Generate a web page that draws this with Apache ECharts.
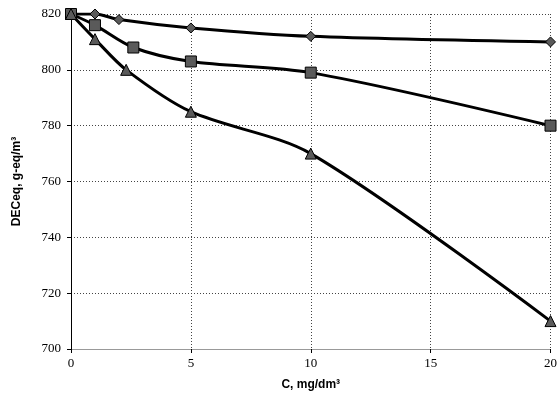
<!DOCTYPE html>
<html>
<head>
<meta charset="utf-8">
<script src="https://cdn.jsdelivr.net/npm/echarts@6/dist/echarts.min.js"></script>
<style>
  html, body { margin: 0; padding: 0; background: #fff; }
  #chart { width: 560px; height: 403px; }
</style>
</head>
<body>
<div id="chart"></div>
<script>
const diamondX = [0, 1, 2, 5, 10, 20];
const diamondY = [820, 820, 818, 815, 812, 810];
const squareX = [0, 1, 2.6, 5, 10, 20];
const squareY = [820, 816, 808, 803, 799, 780];
const triangleX = [0, 1, 2.3, 5, 10, 20];
const triangleY = [820, 811, 800, 785, 770, 710];

const pair = (xs, ys) => xs.map((x, i) => [x, ys[i]]);

const chart = echarts.init(document.getElementById('chart'));

const gridLine = { show: true, lineStyle: { color: '#444', type: [1, 2], width: 1 } };

function series(data, symbol, size) {
  return {
    type: 'line',
    data: data,
    smooth: 0.3,
    symbol: symbol,
    symbolSize: size,
    showAllSymbol: true,
    lineStyle: { color: '#000', width: 3 },
    itemStyle: { color: '#5a5a5a', borderColor: '#000', borderWidth: 1 },
    z: 3
  };
}

chart.setOption({
  animation: false,
  grid: { left: 71, right: 7, top: 14, bottom: 54 },
  xAxis: {
    type: 'value',
    min: 0,
    max: 20,
    interval: 5,
    name: 'C, mg/dm³',
    nameLocation: 'middle',
    nameGap: 30,
    nameTextStyle: { fontFamily: 'Liberation Sans', fontWeight: 'bold', fontSize: 12, color: '#000' },
    axisLine: { show: true, lineStyle: { color: '#999', width: 1 } },
    axisTick: { show: true, length: 4, lineStyle: { color: '#000' } },
    axisLabel: { fontFamily: 'Liberation Serif', fontSize: 13, color: '#000', margin: 8 },
    splitLine: gridLine
  },
  yAxis: {
    type: 'value',
    min: 700,
    max: 820,
    interval: 20,
    name: 'DECeq, g-eq/m³',
    nameLocation: 'middle',
    nameGap: 48,
    nameTextStyle: { fontFamily: 'Liberation Sans', fontWeight: 'bold', fontSize: 12, color: '#000' },
    axisLine: { show: true, lineStyle: { color: '#000', width: 1 } },
    axisTick: { show: true, length: 4, lineStyle: { color: '#000' } },
    axisLabel: { fontFamily: 'Liberation Serif', fontSize: 13, color: '#000', margin: 10 },
    splitLine: gridLine
  },
  series: [
    series(pair(diamondX, diamondY), 'diamond', 10),
    series(pair(squareX, squareY), 'rect', 11),
    series(pair(triangleX, triangleY), 'triangle', 11)
  ]
});
</script>
</body>
</html>
